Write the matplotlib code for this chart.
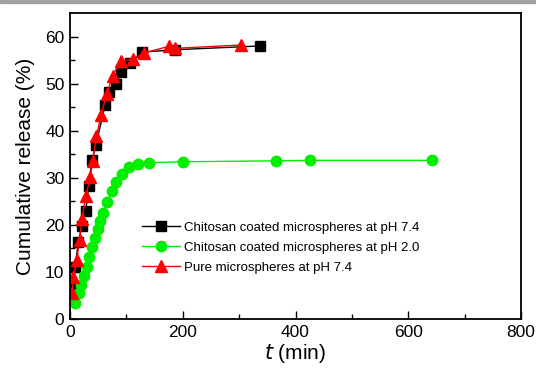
import matplotlib
matplotlib.use("Agg")
import matplotlib.pyplot as plt
from matplotlib.patches import Rectangle

plt.rcParams['font.family'] = ['Liberation Sans', 'DejaVu Sans']

# data (t in min, release in %)
t_black = [4, 9, 15, 21, 28, 33, 39, 46, 62, 70, 81, 91, 107, 128, 187, 337]
y_black = [7.1, 11.1, 16.4, 19.8, 23.0, 28.2, 33.7, 36.9, 45.4, 48.3, 50.0, 52.5, 54.4, 56.7, 57.2, 58.0]

t_green = [9, 16, 19, 24, 30, 34, 39, 45, 49, 53, 59, 66, 74, 82, 93, 105, 120, 140, 200, 366, 425, 642]
y_green = [3.4, 5.5, 7.3, 9.2, 11.1, 13.1, 15.3, 17.2, 19.1, 20.9, 22.6, 24.9, 27.2, 29.0, 30.9, 32.2,
           33.0, 33.2, 33.4, 33.6, 33.7, 33.7]

t_red = [4, 6, 12, 17, 21, 28, 36, 40, 47, 55, 65, 76, 90, 112, 131, 175, 187, 303]
y_red = [5.5, 9.0, 12.6, 16.8, 21.2, 26.1, 30.1, 33.6, 38.8, 43.3, 47.7, 51.7, 54.9, 55.2, 56.5, 57.9, 57.5, 58.2]

labels = ['Chitosan coated microspheres at pH 7.4',
          'Chitosan coated microspheres at pH 2.0',
          'Pure microspheres at pH 7.4']

fig = plt.figure(figsize=(5.36, 3.75), dpi=100)
# grey strip along the top edge
fig.patches.append(Rectangle((0, 0.992), 1, 0.008, transform=fig.transFigure,
                             color='#a0a0a0', zorder=0))
ax = fig.add_axes([70/536, 56/375, 451/536, 306/375])

ax.plot(t_black, y_black, color='black', marker='s', ms=6.5, lw=1, label=labels[0])
ax.plot(t_green, y_green, color='#00ee00', marker='o', ms=7.5, lw=1, label=labels[1])
ax.plot(t_red, y_red, color='red', marker='^', ms=9, lw=1, label=labels[2])

ax.set_xlim(0, 800)
ax.set_ylim(0, 65)
ax.set_xticks([0, 200, 400, 600, 800])
ax.set_xticks([100, 300, 500, 700], minor=True)
ax.set_yticks([0, 10, 20, 30, 40, 50, 60])
ax.set_yticks([5, 15, 25, 35, 45, 55], minor=True)
ax.tick_params(which='major', direction='in', length=6, width=1, labelsize=12.5, pad=4)
ax.tick_params(which='minor', direction='in', length=3.5, width=1)
for s in ax.spines.values():
    s.set_linewidth(1.3)

ax.set_xlabel(r'$\it{t}$' + ' (min)', fontsize=15, labelpad=2)
ax.set_ylabel('Cumulative release (%)', fontsize=15, labelpad=7)

ax.legend(loc='upper left', bbox_to_anchor=(0.145, 0.34), frameon=False, fontsize=9.5,
          handlelength=2.9, handletextpad=0.3, labelspacing=0.6, borderpad=0)

fig.savefig('out.png', dpi=100)
